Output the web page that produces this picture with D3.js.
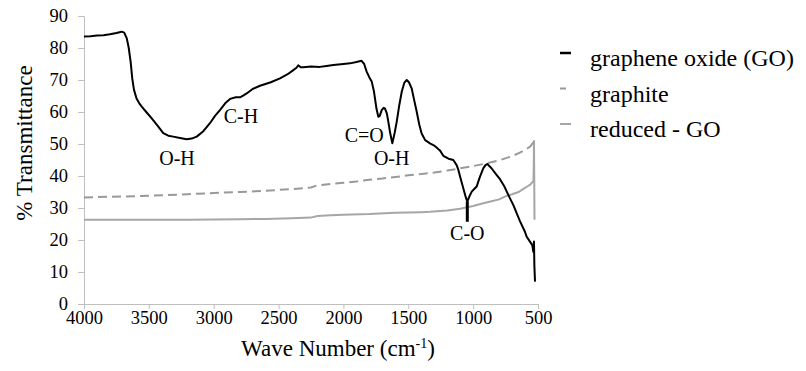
<!DOCTYPE html>
<html>
<head>
<meta charset="utf-8">
<script src="https://cdn.jsdelivr.net/npm/d3@7"></script>
<style>
  body { margin: 0; background: #fff; font-family: 'Liberation Serif'; }
  svg text { font-family: 'Liberation Serif'; }
</style>
</head>
<body>
<svg id="chart" width="806" height="371" style="font-family:'Liberation Serif'"></svg>
<script>
// series: [wave number, % transmittance]
const goData = [[4000,83.6],[3950,83.7],[3900,83.9],[3850,84.0],[3800,84.3],[3750,84.7],[3710,85.1],[3690,84.8],[3670,83.0],[3655,80.0],[3640,75.5],[3628,70.5],[3615,67],[3595,64.2],[3575,62.8],[3555,61.7],[3520,60.0],[3478,58.0],[3430,55.6],[3389,53.4],[3350,52.6],[3312,52.3],[3260,51.9],[3208,51.5],[3170,51.7],[3131,52.3],[3080,54.0],[3029,56.5],[2990,58.8],[2952,60.6],[2910,62.8],[2874,64.1],[2830,64.6],[2797,64.6],[2770,65.2],[2746,65.8],[2700,67.2],[2643,68.2],[2560,69.3],[2489,70.5],[2430,71.8],[2386,73.1],[2360,73.9],[2348,74.6],[2330,74.0],[2310,74.0],[2250,74.2],[2182,74.1],[2130,74.4],[2078,74.7],[2000,75.0],[1949,75.2],[1900,75.6],[1860,76.0],[1840,75.0],[1821,72.6],[1800,70.8],[1782,69.5],[1765,66.5],[1757,64.3],[1745,61],[1731,58.5],[1720,58.8],[1705,60.6],[1690,61.3],[1680,61.1],[1665,59.5],[1654,57.0],[1640,53.5],[1623,50.2],[1605,53.5],[1589,57.0],[1570,62.0],[1550,66.4],[1530,69.2],[1512,70.0],[1495,69.3],[1474,67.4],[1455,63.8],[1435,60.1],[1415,56.0],[1397,53.3],[1370,51.2],[1333,50.2],[1300,49.5],[1256,48.0],[1230,46.3],[1190,45.4],[1153,45.0],[1127,43.4],[1114,41.9],[1095,39.0],[1076,36.2],[1060,33.8],[1045,32.0],[1030,33.5],[1011,35.1],[990,36.0],[973,36.7],[950,39.5],[922,42.4],[905,43.4],[891,43.75],[860,42.5],[818,40.3],[793,39.0],[760,36.8],[729,34.1],[690,30.9],[640,26.0],[600,22.5],[587,21.0],[562,19.5],[544,18.4],[536,16.3],[531,19.5],[528,12],[523,7.0]];

const graphiteData = [[4000,33.3],[3800,33.5],[3600,33.7],[3400,34.0],[3200,34.3],[3000,34.7],[2800,35.0],[2600,35.4],[2400,35.9],[2250,36.4],[2200,37.1],[2100,37.5],[2000,37.9],[1900,38.3],[1800,38.8],[1700,39.2],[1600,39.7],[1500,40.2],[1400,40.6],[1300,41.1],[1200,41.7],[1100,42.4],[1000,43.1],[900,43.9],[800,44.9],[700,46.2],[640,47.3],[600,48.2],[560,49.2],[540,50.3],[530,51.0]];

const rgoData = [[4000,26.3],[3800,26.3],[3600,26.3],[3400,26.3],[3200,26.3],[3000,26.4],[2800,26.5],[2600,26.6],[2400,26.8],[2250,27.0],[2200,27.5],[2100,27.7],[2000,27.9],[1800,28.1],[1600,28.5],[1400,28.7],[1333,28.8],[1200,29.2],[1100,29.8],[1000,30.6],[922,31.5],[850,32.2],[800,32.7],[742,33.8],[700,34.3],[650,35.0],[613,36.0],[580,36.8],[560,37.3],[545,38.0],[535,38.5],[532,45],[531,51.2],[529,40],[527,26.3]];

const seriesNames = ["graphene oxide (GO)", "graphite", "reduced - GO"];
const xTicks = [4000, 3500, 3000, 2500, 2000, 1500, 1000, 500];
const yTicks = [0, 10, 20, 30, 40, 50, 60, 70, 80, 90];

// peak labels: [text, wave number, % T of baseline]
const peakLabels = [["O-H", 3283, 43.4], ["C-H", 2790, 56.5], ["C=O", 1840, 50.5], ["O-H", 1628, 43.4], ["C-O", 1045, 20.0]];
const coMarker = [1045, 32.0, 25.7];

const serif = "'Liberation Serif'";
const W = 806, H = 371;
const margin = {top: 16, right: 268, bottom: 67, left: 84};

const x = d3.scaleLinear().domain([4000, 500]).range([margin.left, W - margin.right]);
const y = d3.scaleLinear().domain([0, 90]).range([H - margin.bottom, margin.top]);

const svg = d3.select("#chart");

// axes
svg.append("g")
    .attr("transform", `translate(0,${y(0)})`)
    .call(d3.axisBottom(x).tickValues(xTicks).tickSize(5).tickPadding(2).tickFormat(d3.format("d")))
    .attr("font-family", null)
    .attr("font-size", null);

svg.append("g")
    .attr("transform", `translate(${x(4000)},0)`)
    .call(d3.axisLeft(y).tickValues(yTicks).tickSize(6).tickPadding(10))
    .attr("font-family", null)
    .attr("font-size", null);

svg.selectAll(".domain, .tick line").attr("stroke", "#bfbfbf");
svg.selectAll(".tick text")
    .attr("fill", "#000")
    .style("font-family", serif)
    .style("font-size", "18.5px");

let line = d3.line().x(d => x(d[0])).y(d => y(d[1]));

svg.append("path")
    .datum(rgoData)
    .attr("d", line)
    .attr("fill", "none")
    .attr("stroke", "#a6a6a6")
    .attr("stroke-width", 2);

svg.append("path")
    .datum(graphiteData)
    .attr("d", line)
    .attr("fill", "none")
    .attr("stroke", "#999")
    .attr("stroke-width", 2)
    .attr("stroke-dasharray", "9 5");

svg.append("path")
    .datum(goData)
    .attr("d", line)
    .attr("fill", "none")
    .attr("stroke", "#000")
    .attr("stroke-width", 2)
    .attr("stroke-linejoin", "round");

// C-O marker
svg.append("line")
    .attr("x1", x(coMarker[0])).attr("x2", x(coMarker[0]))
    .attr("y1", y(coMarker[1])).attr("y2", y(coMarker[2]))
    .attr("stroke", "#000")
    .attr("stroke-width", 3);

svg.selectAll(".peak")
  .data(peakLabels)
  .join("text")
    .attr("class", "peak")
    .attr("x", d => x(d[1]))
    .attr("y", d => y(d[2]))
    .attr("text-anchor", "middle")
    .style("font-family", serif)
    .style("font-size", "20px")
    .text(d => d[0]);

// axis titles
svg.append("text")
    .attr("transform", `translate(32,${(y(0) + y(90)) / 2 - 17}) rotate(-90)`)
    .attr("text-anchor", "middle")
    .style("font-family", serif)
    .style("font-size", "23px")
    .text("% Transmittance");

let xt = svg.append("text")
    .attr("x", 338)
    .attr("y", 356)
    .attr("text-anchor", "middle")
    .style("font-family", serif)
    .style("font-size", "23px");
xt.append("tspan").text("Wave Number (cm");
xt.append("tspan").attr("dy", -8).style("font-size", "14px").text("-1");
xt.append("tspan").attr("dy", 8).text(")");

// legend
const legendStyle = [
    {stroke: "#000", width: 2.5, dash: null},
    {stroke: "#999", width: 2, dash: "6 5"},
    {stroke: "#a6a6a6", width: 2, dash: null}
];
let leg = svg.selectAll(".legend")
  .data(seriesNames)
  .join("g")
    .attr("class", "legend")
    .attr("transform", (_, i) => `translate(560,${66 + i * 35.5})`);

leg.append("line")
    .attr("x1", 0).attr("x2", 11)
    .attr("y1", -13).attr("y2", -13)
    .attr("stroke", (_, i) => legendStyle[i].stroke)
    .attr("stroke-width", (_, i) => legendStyle[i].width)
    .attr("stroke-dasharray", (_, i) => legendStyle[i].dash);

leg.append("text")
    .attr("x", 30)
    .style("font-family", serif)
    .style("font-size", "24px")
    .text(d => d);
</script>
</body>
</html>
